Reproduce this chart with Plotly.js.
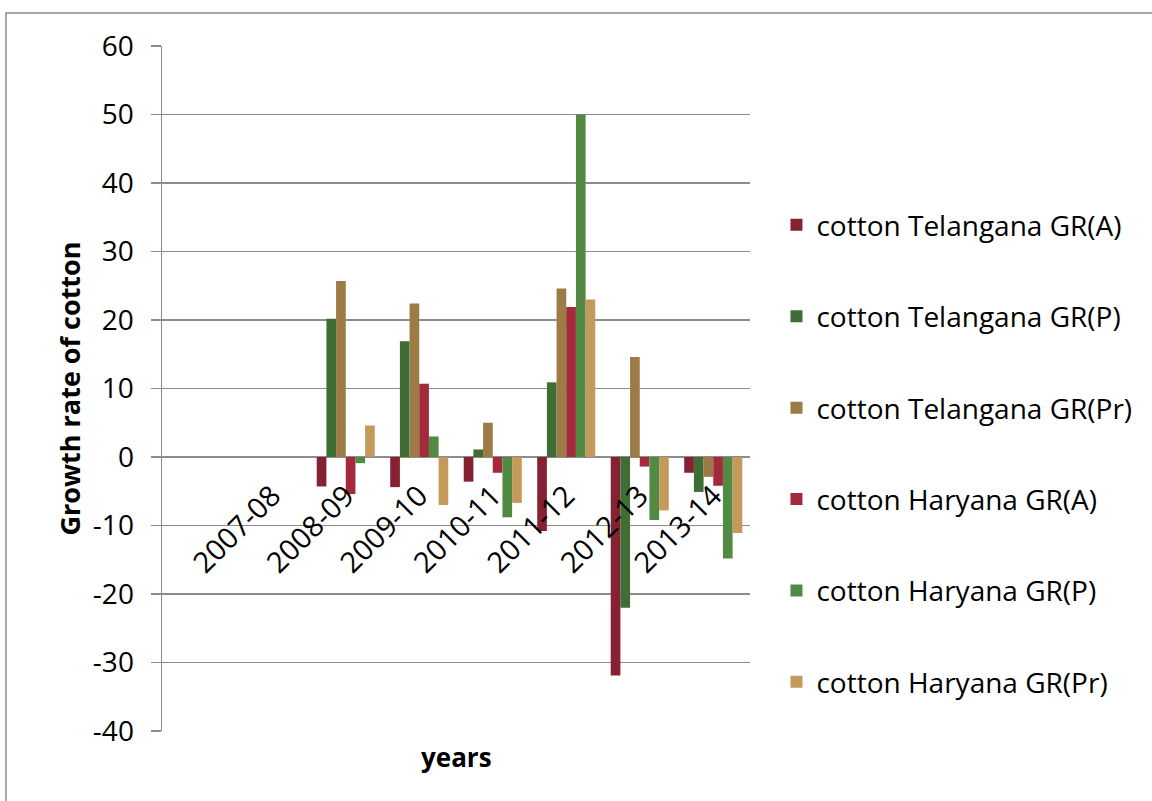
<!DOCTYPE html>
<html>
<head>
<meta charset="utf-8">
<script src="https://cdn.plot.ly/plotly-3.0.1.min.js"></script>
<style>
  html, body { margin: 0; padding: 0; background: #fff; }
  #chart { width: 1152px; height: 801px; }
</style>
</head>
<body>
<div id="chart"></div>
<script>
// Categories (first category is blank in the source chart)
const years = [" ", "2007-08", "2008-09", "2009-10", "2010-11", "2011-12", "2012-13", "2013-14"];

const telanganaGRA  = [null, null, -4.3, -4.4, -3.6, -10.8, -31.9, -2.3];
const telanganaGRP  = [null, null, 20.2, 16.9, 1.1, 10.9, -22.0, -5.1];
const telanganaGRPr = [null, null, 25.7, 22.4, 5.0, 24.6, 14.6, -2.9];
const haryanaGRA    = [null, null, -5.4, 10.7, -2.3, 21.9, -1.4, -4.2];
const haryanaGRP    = [null, null, -0.9, 3.0, -8.8, 50.0, -9.2, -14.8];
const haryanaGRPr   = [null, null, 4.6, -7.0, -6.7, 23.0, -7.8, -11.1];

// y-axis tick values and labels (hyphen-minus as in the source)
const yTickValues = [-40, -30, -20, -10, 0, 10, 20, 30, 40, 50, 60];
const yTickLabels = ["-40", "-30", "-20", "-10", "0", "10", "20", "30", "40", "50", "60"];

const seriesNames = [
  "cotton Telangana GR(A)",
  "cotton Telangana GR(P)",
  "cotton Telangana GR(Pr)",
  "cotton Haryana GR(A)",
  "cotton Haryana GR(P)",
  "cotton Haryana GR(Pr)"
];
const seriesValues = [telanganaGRA, telanganaGRP, telanganaGRPr, haryanaGRA, haryanaGRP, haryanaGRPr];
const seriesColors = ["#862131", "#3F6D35", "#9C7B47", "#A3293B", "#528A43", "#C49A5B"];

const FONT = "'Open Sans', Lato, sans-serif";

const traces = seriesNames.map((name, i) => ({
  type: "bar",
  name: name,
  x: years,
  y: seriesValues[i],
  marker: { color: seriesColors[i], line: { width: 0 } },
  legendgroup: "g" + i,
  hoverinfo: "x+y+name"
}));

const layout = {
  width: 1152,
  height: 801,
  paper_bgcolor: "#ffffff",
  plot_bgcolor: "#ffffff",
  margin: { l: 162, r: 402, t: 46, b: 70, pad: 0 },
  barmode: "group",
  bargap: 0.21,
  bargroupgap: 0,
  font: { family: FONT, color: "#000" },
  showlegend: true,
  legend: {
    x: 1.045, xanchor: "left",
    y: 0.775, yanchor: "top",
    font: { family: FONT, size: 28, color: "#000" },
    tracegroupgap: 52,
    traceorder: "grouped",
    itemwidth: 30,
    bgcolor: "rgba(0,0,0,0)"
  },
  xaxis: {
    type: "category",
    categoryorder: "array",
    categoryarray: years,
    anchor: "free",
    position: 0.4,
    showline: false,
    showgrid: false,
    ticks: "",
    tickangle: -45,
    ticklabelstandoff: 15,
    tickfont: { family: FONT, size: 29, color: "#000" },
    zeroline: false,
    fixedrange: true
  },
  yaxis: {
    range: [-40, 60],
    tickmode: "array",
    tickvals: yTickValues,
    ticktext: yTickLabels,
    showgrid: true,
    gridcolor: "#8c8c8c",
    gridwidth: 1.5,
    zeroline: true,
    zerolinecolor: "#8c8c8c",
    zerolinewidth: 1.5,
    showline: true,
    linecolor: "#8c8c8c",
    linewidth: 1.5,
    ticks: "outside",
    ticklen: 10,
    tickcolor: "#8c8c8c",
    tickwidth: 1.5,
    ticklabelstandoff: 11,
    tickfont: { family: FONT, size: 28, color: "#000" },
    title: { text: "Growth rate of cotton", font: { family: FONT, size: 27, color: "#000", weight: "bold" }, standoff: 4 },
    automargin: false,
    fixedrange: true
  },
  annotations: [{
    text: "<b>years</b>",
    xref: "paper", yref: "paper",
    x: 0.5, y: -0.038,
    xanchor: "center", yanchor: "middle",
    showarrow: false,
    font: { family: FONT, size: 26, color: "#000" }
  }],
  shapes: [{
    type: "rect",
    xref: "paper", yref: "paper",
    x0: (6 - 162) / 588, x1: (1170 - 162) / 588,
    y0: (731 - 820) / 685, y1: (731 - 13) / 685,
    line: { color: "#8c8c8c", width: 1.5 },
    fillcolor: "rgba(0,0,0,0)",
    layer: "below"
  }]
};

Plotly.newPlot("chart", traces, layout, { displayModeBar: false, staticPlot: true });
</script>
</body>
</html>
